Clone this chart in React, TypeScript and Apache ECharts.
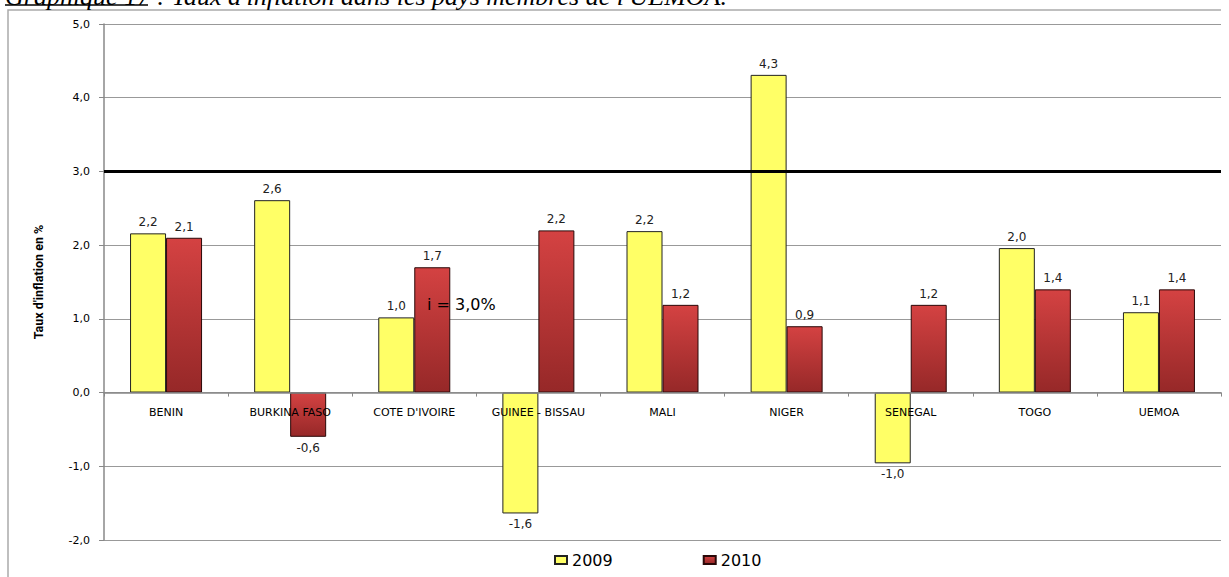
import React, { useEffect, useRef } from "react";
import * as echarts from "echarts";

const categories = [
  "BENIN",
  "BURKINA FASO",
  "COTE D'IVOIRE",
  "GUINEE - BISSAU",
  "MALI",
  "NIGER",
  "SENEGAL",
  "TOGO",
  "UEMOA",
];
const values2009 = [2.16, 2.61, 1.02, -1.64, 2.19, 4.31, -0.96, 1.96, 1.09];
const values2010 = [2.1, -0.6, 1.7, 2.2, 1.19, 0.9, 1.19, 1.4, 1.4];
const seriesNames = ["2009", "2010"];
const yMin = -2;
const yMax = 5;
const yStep = 1;
const thresholdValue = 3;
const thresholdLabel = "i = 3,0%";
const titleText = "Graphique 17 : Taux d'inflation dans les pays membres de l'UEMOA.";
const yAxisName = "Taux d'inflation en %";

const fmt = (v: number) => (Math.round(v * 10) / 10).toFixed(1).replace(".", ",");

export default function App() {
  const ref = useRef<HTMLDivElement>(null);
  useEffect(() => {
    document.body.style.margin = "0";
    if (!ref.current) return;
    const chart = echarts.init(ref.current, null, { renderer: "svg" });
    const H = 577;
    const gridTop = 24;
    const gridBottom = 37;
    const plotH = H - gridTop - gridBottom;
    const zeroOffset = -(plotH * (0 - yMin)) / (yMax - yMin);
    const labelFont = { fontFamily: "DejaVu Sans", fontSize: 12, color: "#222" };
    const mk = (vals: number[]) =>
      vals.map((v) => ({
        value: v,
        label: { position: v < 0 ? "bottom" : "top" },
      }));
    const redGrad = new echarts.graphic.LinearGradient(0, 0, 0, 1, [
      { offset: 0, color: "#D44242" },
      { offset: 1, color: "#962828" },
    ]);
    chart.setOption({
      animation: false,
      grid: { left: 104, right: 8, top: gridTop, bottom: gridBottom },
      legend: {
        data: seriesNames,
        left: 549,
        top: 547,
        itemWidth: 12,
        itemHeight: 8,
        itemGap: 90,
        icon: "rect",
        textStyle: { fontFamily: "DejaVu Sans", fontSize: 16, color: "#000" },
      },
      xAxis: {
        type: "category",
        data: categories,
        offset: zeroOffset,
        axisLine: { onZero: false, lineStyle: { color: "#888", width: 1.5 } },
        axisTick: { show: true, length: 4, lineStyle: { color: "#888" } },
        axisLabel: {
          interval: 0,
          margin: 14,
          fontFamily: "DejaVu Sans",
          fontSize: 11,
          color: "#000",
        },
        splitLine: { show: false },
        z: 5,
      },
      yAxis: {
        type: "value",
        min: yMin,
        max: yMax,
        interval: yStep,
        name: yAxisName,
        nameLocation: "middle",
        nameGap: 59,
        nameRotate: 90,
        nameTextStyle: {
          fontFamily: "Liberation Sans Narrow, Roboto, sans-serif",
          fontSize: 12.5,
          fontWeight: "bold",
          color: "#000",
        },
        axisLine: { show: true, lineStyle: { color: "#888", width: 1.5 } },
        axisTick: { show: true, length: 5, lineStyle: { color: "#888" } },
        axisLabel: {
          formatter: (v: number) => fmt(v),
          margin: 14,
          fontFamily: "DejaVu Sans",
          fontSize: 11,
          color: "#000",
        },
        splitLine: { show: true, lineStyle: { color: "#999", width: 1 } },
      },
      series: [
        {
          name: seriesNames[0],
          type: "bar",
          data: mk(values2009),
          barWidth: 36,
          barGap: "0%",
          itemStyle: { color: "#FFFF66", borderColor: "#222", borderWidth: 1 },
          label: {
            show: true,
            distance: 5,
            formatter: (p: any) => fmt(p.value),
            ...labelFont,
          },
          markLine: {
            silent: true,
            symbol: "none",
            label: { show: false },
            lineStyle: { color: "#000", width: 3, type: "solid" },
            data: [{ yAxis: thresholdValue }],
          },
        },
        {
          name: seriesNames[1],
          type: "bar",
          data: mk(values2010),
          barWidth: 36,
          itemStyle: { color: redGrad, borderColor: "#2a0808", borderWidth: 1 },
          label: {
            show: true,
            distance: 5,
            formatter: (p: any) => fmt(p.value),
            ...labelFont,
          },
        },
      ],
      graphic: [
        {
          type: "polyline",
          silent: true,
          shape: { points: [[8, 600], [8, 10], [1221, 10]] },
          style: { stroke: "#aaa", lineWidth: 1.5, fill: "none" },
        },
        {
          type: "text",
          left: 5,
          top: -17,
          silent: true,
          style: {
            text: titleText,
            font: "italic 26px 'Liberation Serif'",
            fill: "#000",
          },
        },
        {
          type: "line",
          silent: true,
          shape: { x1: 5, y1: 5, x2: 148, y2: 5 },
          style: { stroke: "#000", lineWidth: 1.5 },
        },
        {
          type: "text",
          left: 427,
          top: 296,
          z: 100,
          silent: true,
          style: {
            text: thresholdLabel,
            font: "16px 'DejaVu Sans'",
            fill: "#000",
          },
        },
      ],
    });
    return () => chart.dispose();
  }, []);
  return <div ref={ref} style={{ width: 1229, height: 577 }} />;
}
